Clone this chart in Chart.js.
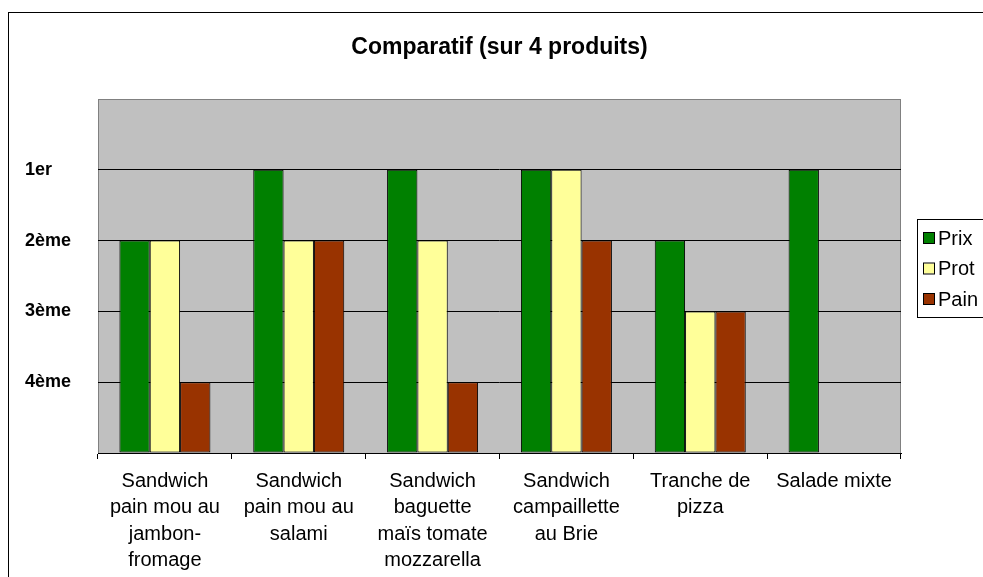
<!DOCTYPE html>
<html>
<head>
<meta charset="utf-8">
<script src="https://cdn.jsdelivr.net/npm/chart.js@4.4.1/dist/chart.umd.min.js"></script>
<style>
  html, body { margin: 0; padding: 0; background: #fff; overflow: hidden; }
  canvas { display: block; }
</style>
</head>
<body>
<canvas id="chart" width="983" height="577"></canvas>
<script>
const TITLE = 'Comparatif (sur 4 produits)';

const CATEGORIES = [
  ['Sandwich', 'pain mou au', 'jambon-', 'fromage'],
  ['Sandwich', 'pain mou au', 'salami'],
  ['Sandwich', 'baguette', 'maïs tomate', 'mozzarella'],
  ['Sandwich', 'campaillette', 'au Brie'],
  ['Tranche de', 'pizza'],
  ['Salade mixte']
];

// rank scores: 4 = 1er, 3 = 2ème, 2 = 3ème, 1 = 4ème
const PRIX = [3, 4, 4, 4, 3, 4];
const PROT = [3, 3, 3, 4, 2, null];
const PAIN = [1, 3, 1, 3, 2, null];

const RANK_LABELS = { 4: '1er', 3: '2ème', 2: '3ème', 1: '4ème' };

const COLOR_PRIX = '#008000';
const COLOR_PROT = '#FFFF99';
const COLOR_PAIN = '#993300';
const COLOR_PLOT = '#C0C0C0';
const COLOR_PLOT_EDGE = '#808080';
const FONT = "Arial, 'Liberation Sans', sans-serif";

// Gray plot area with its frame, plus the outer chart border.
const plotBackground = {
  id: 'plotBackground',
  beforeDraw(chart) {
    const { ctx, chartArea: a } = chart;
    ctx.save();
    ctx.strokeStyle = '#000';
    ctx.lineWidth = 1;
    ctx.strokeRect(8.5, 12.5, 1100, 700);
    ctx.fillStyle = COLOR_PLOT;
    ctx.fillRect(a.left, a.top, a.right - a.left, a.bottom - a.top);
    ctx.strokeStyle = COLOR_PLOT_EDGE;
    ctx.strokeRect(a.left + 0.5, a.top + 0.5, a.right - a.left - 1, a.bottom - a.top);
    ctx.restore();
  }
};

// Excel-style boxed legend, partly cut by the right edge.
const boxLegend = {
  id: 'boxLegend',
  afterDraw(chart) {
    const { ctx } = chart;
    const x = 917.5, y = 219.5;
    ctx.save();
    ctx.fillStyle = '#fff';
    ctx.fillRect(x, y, 120, 98);
    ctx.strokeStyle = '#000';
    ctx.lineWidth = 1;
    ctx.strokeRect(x, y, 120, 98);
    ctx.font = `20px ${FONT}`;
    ctx.textBaseline = 'middle';
    chart.data.datasets.forEach((ds, i) => {
      const cy = 238 + i * 30.5;
      ctx.fillStyle = ds.backgroundColor;
      ctx.fillRect(924, cy - 5, 10, 10);
      ctx.strokeRect(923.5, cy - 5.5, 11, 11);
      ctx.fillStyle = '#000';
      ctx.fillText(ds.label, 938, cy + 1);
    });
    ctx.restore();
  }
};

const barStyle = { borderColor: '#000', borderWidth: 1, borderSkipped: false };

new Chart(document.getElementById('chart'), {
  type: 'bar',
  data: {
    labels: CATEGORIES,
    datasets: [
      { label: 'Prix', data: PRIX, backgroundColor: COLOR_PRIX, ...barStyle },
      { label: 'Prot', data: PROT, backgroundColor: COLOR_PROT, ...barStyle },
      { label: 'Pain', data: PAIN, backgroundColor: COLOR_PAIN, ...barStyle }
    ]
  },
  options: {
    responsive: false,
    animation: false,
    devicePixelRatio: 1,
    categoryPercentage: 0.68,
    barPercentage: 1.0,
    layout: { padding: { left: 25, right: 82, top: 0, bottom: 0 } },
    plugins: {
      legend: { display: false },
      tooltip: { enabled: false },
      title: {
        display: true,
        text: TITLE,
        fullSize: false,
        color: '#000',
        font: { family: FONT, size: 23, weight: 'bold', lineHeight: 1.2 },
        padding: { top: 34, bottom: 37.4 }
      }
    },
    scales: {
      x: {
        grid: { drawOnChartArea: false, drawTicks: true, tickLength: 6, color: '#000' },
        border: { color: '#000' },
        ticks: {
          color: '#000',
          font: { family: FONT, size: 20, lineHeight: 1.32 },
          maxRotation: 0,
          minRotation: 0,
          autoSkip: false,
          padding: 9
        },
        afterFit(scale) { scale.height = 124; }
      },
      y: {
        min: 0,
        max: 5,
        grid: {
          drawTicks: false,
          color: (c) => (c.tick.value >= 1 && c.tick.value <= 4 ? '#000' : 'rgba(0,0,0,0)')
        },
        border: { display: false },
        ticks: {
          stepSize: 1,
          color: '#000',
          crossAlign: 'far',
          padding: 0,
          font: { family: FONT, size: 18, weight: 'bold' },
          callback: (v) => RANK_LABELS[v] || ''
        },
        afterFit(scale) { scale.width = 73; }
      }
    }
  },
  plugins: [plotBackground, boxLegend]
});
</script>
</body>
</html>
